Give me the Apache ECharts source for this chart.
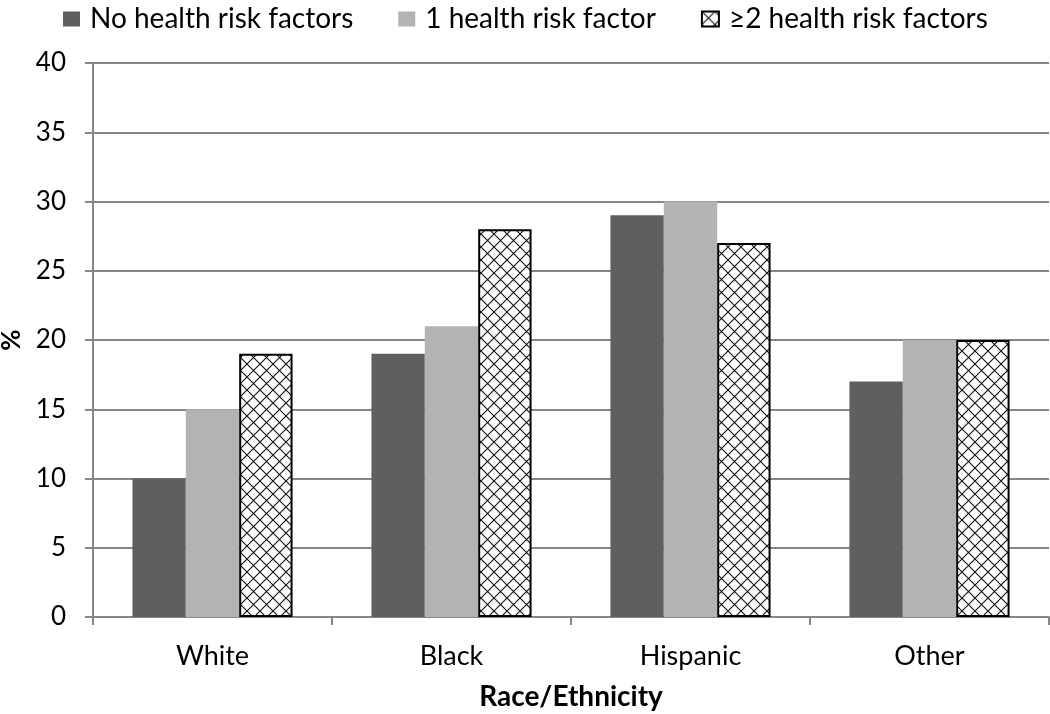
<!DOCTYPE html>
<html><head><meta charset="utf-8">
<script src="https://cdn.jsdelivr.net/npm/echarts@6/dist/echarts.min.js"></script>
<style>html,body{margin:0;padding:0;background:#fff}#c{width:1050px;height:714px}</style>
</head><body><div id="c"></div>
<script>
const categories = ['White', 'Black', 'Hispanic', 'Other'];
const seriesNames = ['No health risk factors', '1 health risk factor', '≥2 health risk factors'];
const noRisk = [10, 19, 29, 17];
const oneRisk = [15, 21, 30, 20];
const twoPlusRisk = [19, 28, 27, 20];
const yTicks = [0, 5, 10, 15, 20, 25, 30, 35, 40];

const FONT = 'Lato, "Open Sans", sans-serif';

function hatch() {
  const s = 13;
  const cv = document.createElement('canvas');
  cv.width = s; cv.height = s;
  const g = cv.getContext('2d');
  g.fillStyle = '#fff'; g.fillRect(0, 0, s, s);
  g.strokeStyle = '#111'; g.lineWidth = 1.1;
  g.beginPath();
  g.moveTo(0, 0); g.lineTo(s, s);
  g.moveTo(s, 0); g.lineTo(0, s);
  g.stroke();
  return cv;
}

const chart = echarts.init(document.getElementById('c'));
chart.setOption({
  animation: false,
  backgroundColor: '#fff',
  textStyle: { fontFamily: FONT },
  legend: {
    top: 0, left: 58,
    itemWidth: 17, itemHeight: 15, itemGap: 45,
    icon: 'rect',
    textStyle: { fontSize: 28, color: '#000', fontFamily: FONT, padding: [0, 0, 0, 5] },
    data: seriesNames
  },
  grid: { left: 93, right: 1, top: 63, bottom: 97, containLabel: false, outerBoundsMode: 'none' },
  xAxis: {
    type: 'category',
    data: categories,
    name: 'Race/Ethnicity',
    nameLocation: 'middle',
    nameGap: 66,
    nameTextStyle: { fontSize: 28, fontWeight: 'bold', color: '#000', fontFamily: FONT },
    axisLine: { lineStyle: { color: '#868686', width: 2 } },
    axisTick: { show: true, length: 8, interval: 0, alignWithLabel: false, lineStyle: { color: '#868686', width: 2 } },
    axisLabel: { fontSize: 27, color: '#000', margin: 26, fontFamily: FONT }
  },
  yAxis: {
    type: 'value',
    min: 0, max: 40, interval: 5,
    name: '%',
    nameLocation: 'middle',
    nameGap: 68,
    nameRotate: 90,
    nameTextStyle: { fontSize: 26, fontWeight: 'bold', color: '#000', fontFamily: FONT },
    axisLine: { show: true, lineStyle: { color: '#868686', width: 2 } },
    axisTick: { show: true, length: 8, lineStyle: { color: '#868686', width: 2 } },
    axisLabel: { fontSize: 26, color: '#000', margin: 27, fontFamily: FONT,
      formatter: v => yTicks.includes(v) ? String(v) : '' },
    splitLine: { show: true, lineStyle: { color: '#868686', width: 2 } }
  },
  series: [
    { name: seriesNames[0], type: 'bar', data: noRisk, barGap: '0%', barCategoryGap: '33%',
      itemStyle: { color: '#5f5f5f' } },
    { name: seriesNames[1], type: 'bar', data: oneRisk, barGap: '0%', barCategoryGap: '33%',
      itemStyle: { color: '#b3b3b3' } },
    { name: seriesNames[2], type: 'bar', data: twoPlusRisk, barGap: '0%', barCategoryGap: '33%',
      itemStyle: { color: { image: hatch(), repeat: 'repeat' }, borderColor: '#000', borderWidth: 2 } }
  ]
});
</script></body></html>
